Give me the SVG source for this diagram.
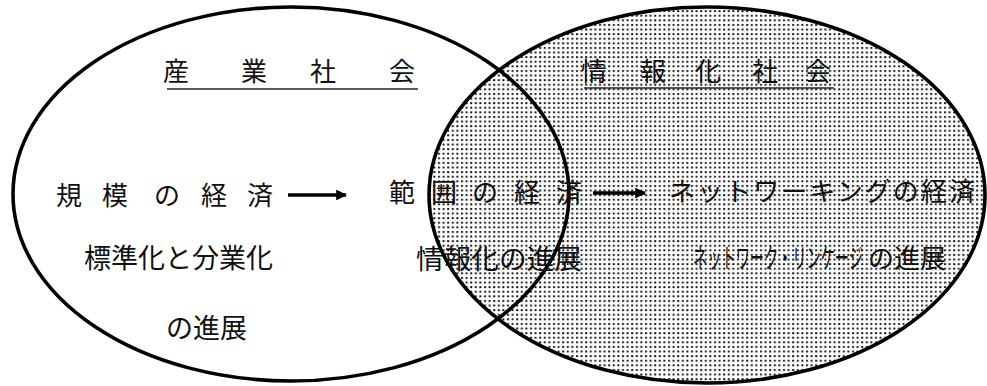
<svg xmlns="http://www.w3.org/2000/svg" width="987" height="386" viewBox="0 0 987 386">
<style>
.ell{fill:none;stroke:#000;stroke-width:3.6}
.t{font-family:"Noto Sans CJK JP","Noto Sans CJK SC",sans-serif;fill:#111;font-size:26px}
.t27{font-size:27px}
.ul{stroke:#222;stroke-width:1.6}
.arr{stroke:#000;stroke-width:3.4;fill:none;marker-end:url(#ah)}
</style>
<defs>
<pattern id="dots" x="0" y="0" width="4.6" height="4.6" patternUnits="userSpaceOnUse">
<rect x="1" y="1" width="2" height="1.9" fill="#111"/>
</pattern>
<marker id="ah" viewBox="0 0 10 10" refX="9" refY="5" markerWidth="3.2" markerHeight="3.2" markerUnits="strokeWidth" orient="auto">
<path d="M0,0 L10,5 L0,10 Z" fill="#000"/>
</marker>
</defs>
<rect width="987" height="386" fill="#fff"/>
<g id="information-society">
<ellipse cx="707" cy="195" rx="278" ry="188" fill="url(#dots)" stroke="none"/>
<ellipse class="ell" cx="707" cy="195" rx="278" ry="188"/>
<text class="t" x="581 640 695 752 805" y="81">情報化社会</text>
<line class="ul" x1="584" y1="88" x2="834" y2="88"/>
</g>
<g id="industrial-society">
<ellipse class="ell" cx="291" cy="194" rx="278" ry="187"/>
<text class="t" x="163 241 310 389" y="81">産業社会</text>
<line class="ul" x1="167" y1="89" x2="418" y2="89"/>
</g>
<g id="economies-of-scale">
<text class="t" x="56 102 154 201 247" y="205">規模の経済</text>
<text class="t t27" x="84" y="268">標準化と分業化</text>
<text class="t t27" x="166" y="338">の進展</text>
</g>
<g id="economies-of-scope">
<text class="t" x="389 431 472 514 556" y="202">範囲の経済</text>
<text class="t t27" x="416" y="269" textLength="166" lengthAdjust="spacingAndGlyphs">情報化の進展</text>
</g>
<g id="economies-of-networking">
<text class="t" x="669" y="201" textLength="306" lengthAdjust="spacing">ネットワーキングの経済</text>
<text class="t t27" x="693" y="268"><tspan textLength="170" lengthAdjust="spacingAndGlyphs">ネットワーク・リンケージ</tspan><tspan x="868" style="font-size:26px">の進展</tspan></text>
</g>
<g id="connectors">
<line class="arr" x1="288" y1="195" x2="346" y2="195"/>
<line class="arr" x1="593" y1="193" x2="645" y2="193"/>
</g>
</svg>
